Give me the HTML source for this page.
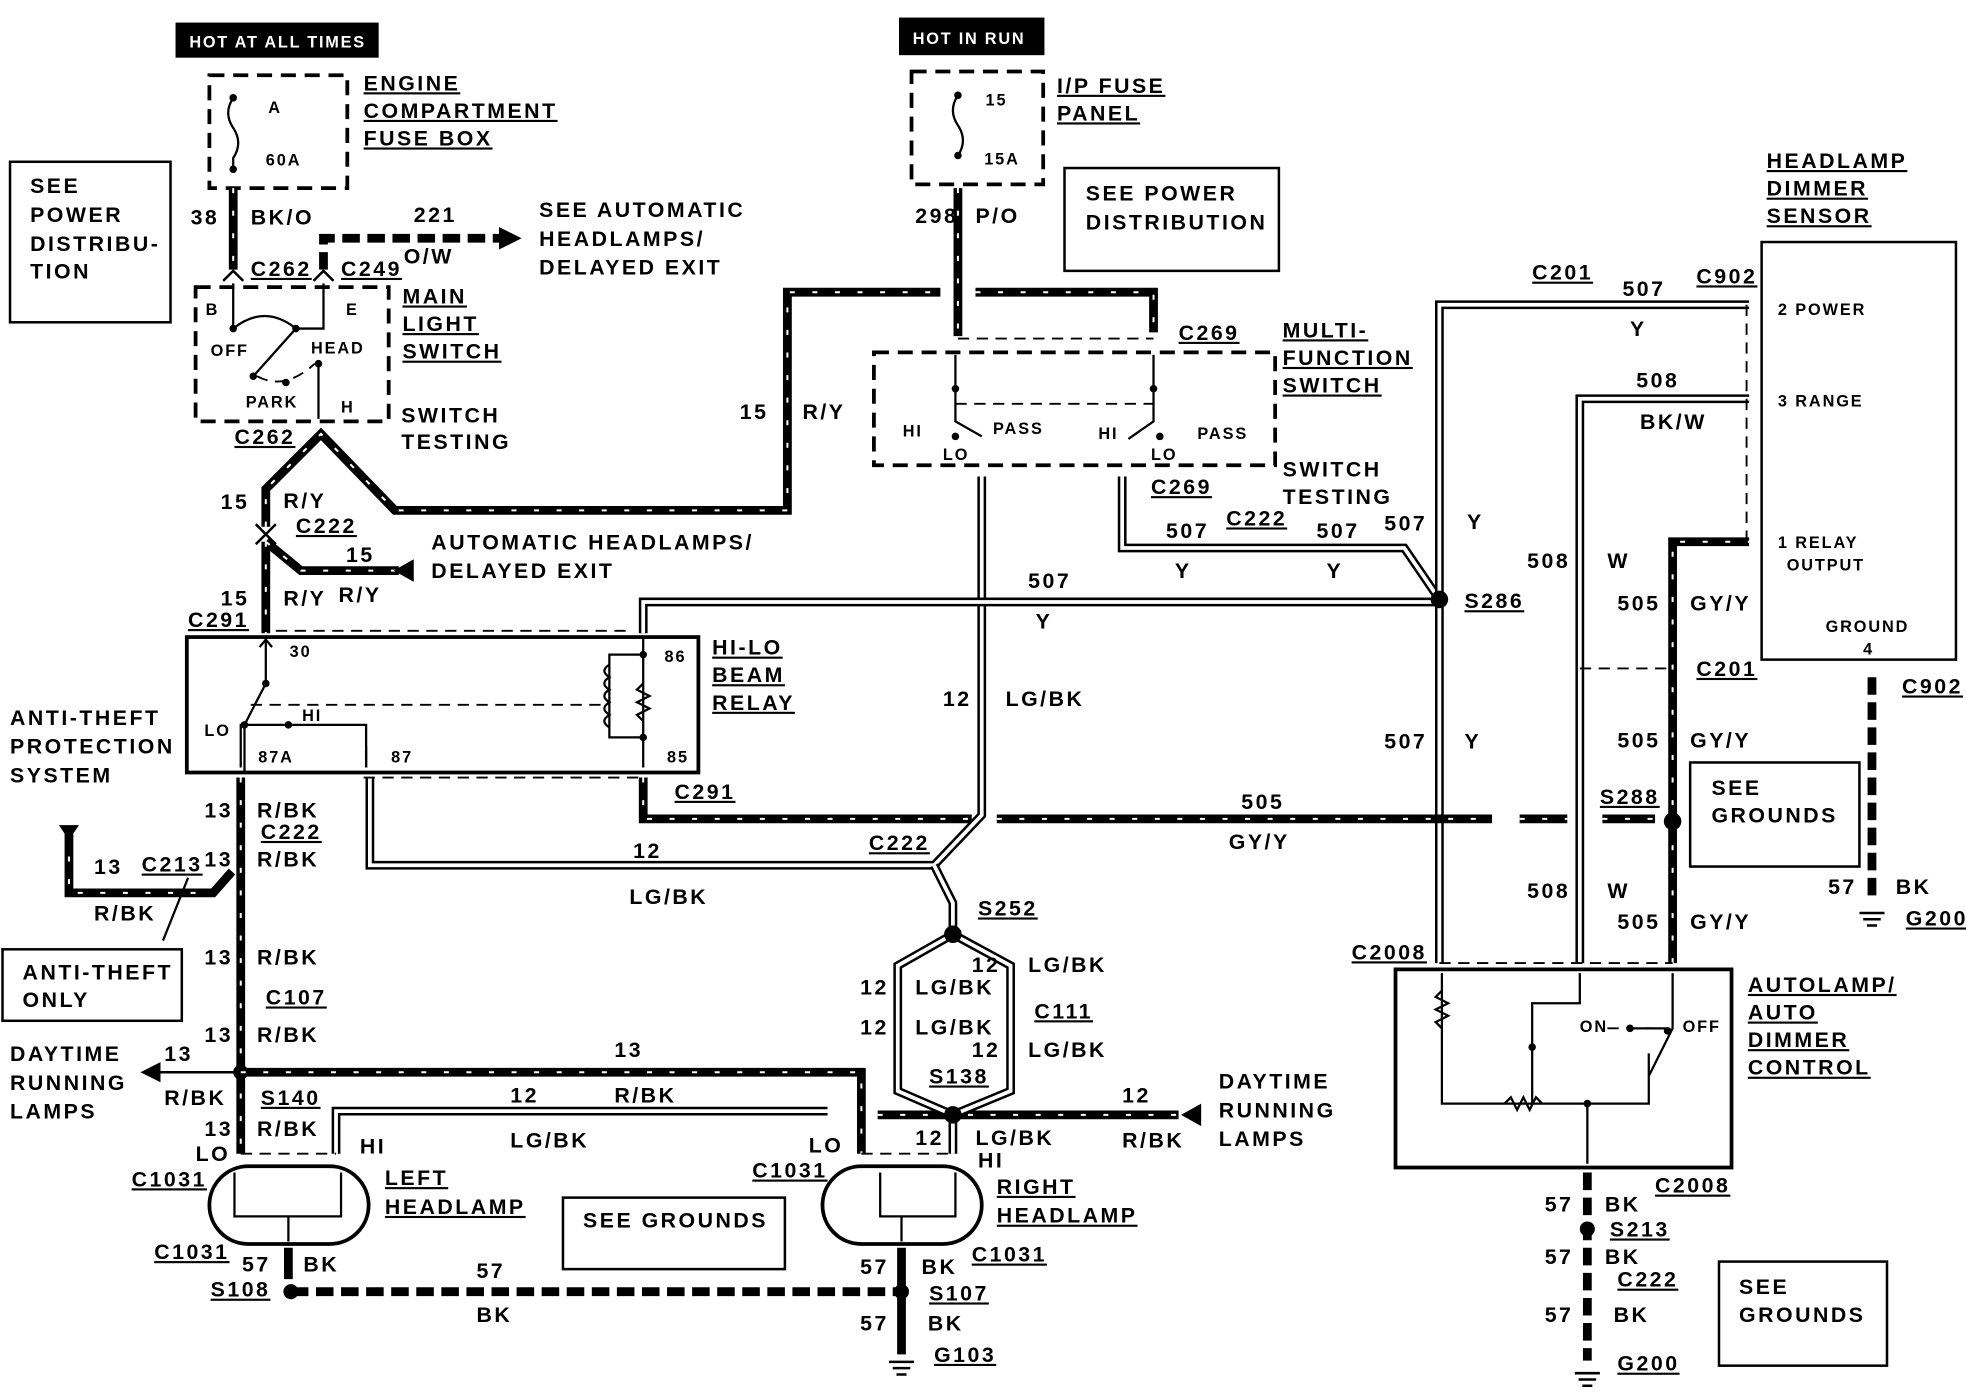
<!DOCTYPE html>
<html><head><meta charset="utf-8"><style>
html,body{margin:0;padding:0;background:#fff}
svg{display:block}
text{font-family:"Liberation Sans",sans-serif;font-weight:bold;font-size:17px;letter-spacing:2px;fill:#000}
.u{text-decoration:underline}
.s{font-size:13px;letter-spacing:1.5px}
.w{fill:#fff;font-size:13px;letter-spacing:1.4px}
.k{stroke:#000;stroke-width:7;fill:none}
.h{stroke:#fff;stroke-width:1.6;fill:none;stroke-dasharray:4 14}
.d{stroke:#000;stroke-width:7;fill:none}
.di{stroke:#fff;stroke-width:3;fill:none}
.kd{stroke:#000;stroke-width:7;fill:none;stroke-dasharray:14 6}
.dash{stroke:#000;stroke-width:3;fill:none;stroke-dasharray:12 7}
.ld{stroke:#000;stroke-width:1.5;fill:none;stroke-dasharray:9 6}
.l{stroke:#000;stroke-width:1.8;fill:none}
.b{stroke:#000;stroke-width:2;fill:none}
</style></head><body>
<svg width="1966" height="1392" viewBox="0 0 1568 1110" preserveAspectRatio="none" xmlns="http://www.w3.org/2000/svg">
<rect width="1568" height="1110" fill="#fff"/>
<rect x="140" y="18" width="162" height="28" fill="#000"/><text class="w" x="151" y="38">HOT AT ALL TIMES</text>
<rect x="717" y="14" width="116" height="30" fill="#000"/><text class="w" x="728" y="35">HOT IN RUN</text>
<rect x="167" y="60" width="110" height="90" class="dash"/>
<path d="M186 78 q-8 12 0 24 q8 12 0 24 v9" class="l"/><circle cx="186" cy="78" r="3"/><circle cx="186" cy="135" r="3"/>
<text class="s" x="214" y="90">A</text><text class="s" x="212" y="132">60A</text>
<text class="u" x="290" y="72">ENGINE</text><text class="u" x="290" y="94">COMPARTMENT</text><text class="u" x="290" y="116">FUSE BOX</text>
<rect x="727" y="57" width="105" height="90" class="dash"/>
<path d="M764 76 q-8 12 0 24 q8 12 0 24" class="l"/><circle cx="764" cy="76" r="3"/><circle cx="764" cy="124" r="3"/>
<text class="s" x="786" y="84">15</text><text class="s" x="785" y="131">15A</text>
<text class="u" x="843" y="74">I/P FUSE</text><text class="u" x="843" y="96">PANEL</text>
<rect x="8" y="129" width="128" height="128" class="b"/>
<text x="24" y="154">SEE</text><text x="24" y="177">POWER</text><text x="24" y="200">DISTRIBU-</text><text x="24" y="222">TION</text>
<rect x="849" y="134" width="171" height="82" class="b"/><text x="866" y="160">SEE POWER</text><text x="866" y="183">DISTRIBUTION</text>
<path d="M186 150V215" class="k"/><path d="M186 150V215" class="h"/>
<text x="152" y="179">38</text><text x="200" y="179">BK/O</text>
<path d="M258 215V190H400" class="kd"/><path d="M398 181l18 9-18 9z"/>
<text x="330" y="177">221</text><text x="322" y="210">O/W</text>
<text x="430" y="173">SEE AUTOMATIC</text><text x="430" y="196">HEADLAMPS/</text><text x="430" y="219">DELAYED EXIT</text>
<text class="u" x="200" y="220">C262</text><text class="u" x="272" y="220">C249</text>
<path d="M178 224l8-8 8 8M250 224l8-8 8 8" class="b"/>
<rect x="156" y="229" width="154" height="107" class="dash"/>
<path d="M186 226V262M258 226V262 H236 M236 262 L202 300 M186 262 q25-20 50 0 M254 290V334" class="l"/>
<circle cx="186" cy="262" r="3"/><circle cx="236" cy="262" r="3"/><circle cx="202" cy="300" r="3"/><circle cx="254" cy="290" r="3"/><circle cx="228" cy="305" r="3"/>
<path d="M205 300 q22 12 46 -10" class="ld"/>
<text class="s" x="164" y="251">B</text><text class="s" x="276" y="251">E</text><text class="s" x="168" y="284">OFF</text><text class="s" x="248" y="282">HEAD</text><text class="s" x="196" y="325">PARK</text><text class="s" x="272" y="329">H</text>
<text class="u" x="321" y="242">MAIN</text><text class="u" x="321" y="264">LIGHT</text><text class="u" x="321" y="286">SWITCH</text>
<text x="320" y="337">SWITCH</text><text x="320" y="358">TESTING</text>
<text class="u" x="187" y="354">C262</text>
<path d="M212 420V390L256 346L315 407H628V233H750M778 233H920V265" class="k"/>
<path d="M212 420V390L256 346L315 407H628V233H750M778 233H920V265" class="h"/>
<path d="M764 150V268" class="k"/><path d="M764 150V268" class="h"/>
<text x="730" y="178">298</text><text x="778" y="178">P/O</text>
<text x="590" y="334">15</text><text x="640" y="334">R/Y</text>
<text x="176" y="406">15</text><text x="226" y="405">R/Y</text><text class="u" x="236" y="425">C222</text>
<path d="M204 418l8 8 8-8M204 434l8-8 8 8" class="b"/>
<path d="M212 432V505M212 432L240 455H318" class="k"/><path d="M212 432V505M212 432L240 455H318" class="h"/>
<path d="M330 446v18l-16-9z"/>
<text x="276" y="448">15</text><text x="270" y="480">R/Y</text><text x="176" y="483">15</text><text x="226" y="483">R/Y</text>
<text x="344" y="438">AUTOMATIC HEADLAMPS/</text><text x="344" y="461">DELAYED EXIT</text>
<text class="u" x="150" y="500">C291</text>
<path d="M220 503H505" class="ld"/>
<rect x="149" y="508" width="408" height="108" fill="none" stroke="#000" stroke-width="3"/>
<path d="M212 508V545L195 578V616M212 510l-5 6M212 510l5 6M195 578H192V612M196 578L230 578M292 595V612" class="l"/>
<path d="M230 578H292V612" class="l"/>
<path d="M200 562H485" class="ld"/>
<path d="M513 508V612M513 522H486V588H513" class="l"/>
<path d="M486 530q-8 5 0 10q-8 5 0 10q-8 5 0 10q-8 5 0 10q-8 5 0 10" class="l"/>
<path d="M513 545l-5 5 10 5-10 5 10 5-10 5 5 5" class="l"/>
<circle cx="212" cy="545" r="3"/><circle cx="195" cy="578" r="3"/><circle cx="230" cy="578" r="3"/><circle cx="513" cy="522" r="3"/><circle cx="513" cy="588" r="3"/>
<text class="s" x="231" y="524">30</text><text class="s" x="530" y="528">86</text><text class="s" x="163" y="587">LO</text><text class="s" x="241" y="575">HI</text><text class="s" x="206" y="608">87A</text><text class="s" x="312" y="608">87</text><text class="s" x="532" y="608">85</text>
<text class="u" x="568" y="522">HI-LO</text><text class="u" x="568" y="544">BEAM</text><text class="u" x="568" y="566">RELAY</text>
<rect x="697" y="281" width="320" height="90" class="dash"/>
<path d="M764 270H920" class="ld"/>
<path d="M762 283V336L783 348M920 283V336L900 350" class="l"/><path d="M762 322H920" class="ld"/>
<circle cx="762" cy="310" r="3"/><circle cx="762" cy="348" r="3"/><circle cx="920" cy="310" r="3"/><circle cx="925" cy="348" r="3"/>
<text class="s" x="720" y="348">HI</text><text class="s" x="792" y="346">PASS</text><text class="s" x="752" y="367">LO</text><text class="s" x="876" y="350">HI</text><text class="s" x="955" y="350">PASS</text><text class="s" x="918" y="367">LO</text>
<text class="u" x="1023" y="269">MULTI-</text><text class="u" x="1023" y="291">FUNCTION</text><text class="u" x="1023" y="313">SWITCH</text>
<text x="1023" y="380">SWITCH</text><text x="1023" y="402">TESTING</text>
<text class="u" x="940" y="271">C269</text><text class="u" x="918" y="394">C269</text>
<path d="M783 380V650L745 690H295V620" class="d"/><path d="M783 380V650L745 690H295V620" class="di"/>
<text x="752" y="563">12</text><text x="802" y="563">LG/BK</text><text x="505" y="684">12</text><text x="502" y="721">LG/BK</text><text class="u" x="693" y="678">C222</text>
<path d="M290 620H510" class="ld"/>
<path d="M895 380V437H1120L1148 478" class="d"/><path d="M895 380V437H1120L1148 478" class="di"/>
<path d="M513 505V480H1148" class="d"/><path d="M513 505V480H1148" class="di"/>
<text x="930" y="429">507</text><text class="u" x="978" y="419">C222</text><text x="1050" y="429">507</text><text x="937" y="461">Y</text><text x="1058" y="461">Y</text><text x="1104" y="423">507</text>
<text x="820" y="469">507</text><text x="826" y="501">Y</text>
<path d="M1148 768V243H1395" class="d"/><path d="M1148 768V243H1395" class="di"/>
<circle cx="1148" cy="478" r="7"/><text class="u" x="1168" y="485">S286</text>
<text class="u" x="1222" y="223">C201</text><text x="1294" y="236">507</text><text x="1300" y="268">Y</text><text class="u" x="1353" y="226">C902</text>
<text x="1170" y="422">Y</text><text x="1104" y="597">507</text><text x="1168" y="597">Y</text>
<path d="M1260 768V318H1395" class="d"/><path d="M1260 768V318H1395" class="di"/>
<text x="1305" y="309">508</text><text x="1308" y="342">BK/W</text><text x="1218" y="453">508</text><text x="1282" y="453">W</text><text x="1218" y="716">508</text><text x="1282" y="716">W</text>
<path d="M1334 768V432H1395" class="k"/><path d="M1334 768V432H1395" class="h"/>
<text x="1290" y="487">505</text><text x="1348" y="487">GY/Y</text><text x="1290" y="596">505</text><text x="1348" y="596">GY/Y</text><text x="1290" y="741">505</text><text x="1348" y="741">GY/Y</text>
<path d="M1260 533H1334M1148 768H1334" class="ld"/><text class="u" x="1353" y="539">C201</text>
<path d="M1393 243V432" class="ld"/>
<path d="M513 620V653H775M795 653H1190M1212 653H1250M1278 653H1320" class="k"/><path d="M513 620V653H775M795 653H1190M1212 653H1250M1278 653H1320" class="h"/>
<circle cx="1334" cy="655" r="7"/><text class="u" x="1276" y="641">S288</text>
<text x="990" y="645">505</text><text x="980" y="677">GY/Y</text><text class="u" x="538" y="637">C291</text>
<rect x="1405" y="193" width="155" height="333" class="b"/>
<text class="s" x="1418" y="251">2 POWER</text><text class="s" x="1418" y="324">3 RANGE</text><text class="s" x="1418" y="437">1 RELAY</text><text class="s" x="1425" y="455">OUTPUT</text><text class="s" x="1456" y="504">GROUND</text><text class="s" x="1486" y="522">4</text>
<text class="u" x="1409" y="134">HEADLAMP</text><text class="u" x="1409" y="156">DIMMER</text><text class="u" x="1409" y="178">SENSOR</text>
<text class="u" x="1517" y="553">C902</text>
<path d="M1493 540V720" class="kd"/>
<path d="M1483 728h20M1486 733h14M1489 738h8" class="b"/>
<text x="1458" y="713">57</text><text x="1512" y="713">BK</text><text class="u" x="1520" y="738">G200</text>
<rect x="1348" y="608" width="135" height="83" class="b"/><text x="1365" y="634">SEE</text><text x="1365" y="656">GROUNDS</text>
<rect x="1113" y="773" width="268" height="158" fill="none" stroke="#000" stroke-width="3"/>
<path d="M1150 776V880H1315V840M1150 790l-5 5 10 5-10 5 10 5-10 5 5 5M1260 776V800H1222V880M1334 776V820L1315 858M1200 880l5-5 5 10 5-10 5 10 5-10 5 5M1266 880V928M1300 820H1330" class="l"/>
<path d="M1282 820H1318" class="ld"/>
<circle cx="1222" cy="835" r="3"/><circle cx="1300" cy="820" r="3"/><circle cx="1330" cy="822" r="3"/><circle cx="1266" cy="880" r="3"/>
<text class="s" x="1260" y="823">ON</text><text class="s" x="1342" y="823">OFF</text>
<text class="u" x="1394" y="791">AUTOLAMP/</text><text class="u" x="1394" y="813">AUTO</text><text class="u" x="1394" y="835">DIMMER</text><text class="u" x="1394" y="857">CONTROL</text>
<text class="u" x="1078" y="765">C2008</text>
<path d="M1266 935V1085" class="kd"/>
<path d="M1256 1095h20M1259 1100h14M1262 1105h8" class="b"/>
<circle cx="1266" cy="980" r="6"/>
<text class="u" x="1320" y="951">C2008</text><text x="1232" y="966">57</text><text x="1280" y="966">BK</text><text class="u" x="1284" y="986">S213</text>
<text x="1232" y="1008">57</text><text x="1280" y="1008">BK</text><text class="u" x="1290" y="1026">C222</text><text x="1232" y="1054">57</text><text x="1287" y="1054">BK</text><text class="u" x="1290" y="1093">G200</text>
<rect x="1371" y="1006" width="134" height="83" class="b"/><text x="1387" y="1032">SEE</text><text x="1387" y="1054">GROUNDS</text>
<text x="8" y="578">ANTI-THEFT</text><text x="8" y="601">PROTECTION</text><text x="8" y="624">SYSTEM</text>
<path d="M192 620V920" class="k"/><path d="M192 620V920" class="h"/>
<path d="M55 665V712H170L185 695" class="k"/><path d="M55 665V712H170" class="h"/>
<path d="M47 658h16l-8 12z"/>
<text x="163" y="652">13</text><text x="205" y="652">R/BK</text><text class="u" x="208" y="669">C222</text><text x="163" y="691">13</text><text x="205" y="691">R/BK</text>
<text x="75" y="697">13</text><text class="u" x="113" y="695">C213</text><text x="75" y="734">R/BK</text>
<path d="M150 700L130 750" class="l"/>
<rect x="2" y="757" width="143" height="57" class="b"/><text x="18" y="781">ANTI-THEFT</text><text x="18" y="803">ONLY</text>
<text x="163" y="769">13</text><text x="205" y="769">R/BK</text><text class="u" x="212" y="801">C107</text><text x="163" y="831">13</text><text x="205" y="831">R/BK</text>
<text x="8" y="846">DAYTIME</text><text x="8" y="869">RUNNING</text><text x="8" y="892">LAMPS</text>
<path d="M190 855H125" class="b" stroke-width="3"/><path d="M128 847l-16 8 16 8z"/>
<text x="131" y="846">13</text><text x="131" y="881">R/BK</text><circle cx="192" cy="855" r="6"/><text class="u" x="208" y="881">S140</text>
<text x="163" y="906">13</text><text x="205" y="906">R/BK</text><text x="156" y="926">LO</text><text x="287" y="920">HI</text>
<path d="M192 855H687V920" class="k"/><path d="M192 855H687V920" class="h"/><text x="490" y="843">13</text>
<path d="M268 920V886H660" class="d"/><path d="M268 920V886H660" class="di"/>
<path d="M700 889H940" class="k"/><path d="M700 889H940" class="h"/><path d="M958 880v18l-16-9z"/>
<text x="407" y="879">12</text><text x="490" y="879">R/BK</text><text x="407" y="915">LG/BK</text><text x="895" y="879">12</text><text x="895" y="915">R/BK</text>
<text x="972" y="868">DAYTIME</text><text x="972" y="891">RUNNING</text><text x="972" y="914">LAMPS</text>
<path d="M745 690L760 720V745M760 745L716 770V870L760 889M760 745L806 770V870L760 889M760 889V920" class="d"/>
<path d="M745 690L760 720V745M760 745L716 770V870L760 889M760 745L806 770V870L760 889M760 889V920" class="di"/>
<circle cx="760" cy="745" r="7"/><circle cx="760" cy="889" r="7"/>
<text class="u" x="780" y="730">S252</text><text class="u" x="741" y="864">S138</text>
<text x="775" y="775">12</text><text x="820" y="775">LG/BK</text><text x="686" y="793">12</text><text x="730" y="793">LG/BK</text><text class="u" x="825" y="812">C111</text>
<text x="686" y="825">12</text><text x="730" y="825">LG/BK</text><text x="775" y="843">12</text><text x="820" y="843">LG/BK</text>
<text x="730" y="913">12</text><text x="778" y="913">LG/BK</text><text x="780" y="931">HI</text><text x="645" y="919">LO</text>
<path d="M192 920H268M687 920H760" class="ld"/>
<rect x="167" y="930" width="127" height="62" rx="31" fill="none" stroke="#000" stroke-width="3"/>
<rect x="656" y="930" width="127" height="62" rx="31" fill="none" stroke="#000" stroke-width="3"/>
<path d="M187 935V970H272V935M230 970V990M702 935V970H762V935M719 970V990" class="l"/>
<text class="u" x="105" y="946">C1031</text><text class="u" x="307" y="945">LEFT</text><text class="u" x="307" y="968">HEADLAMP</text>
<text class="u" x="600" y="939">C1031</text><text class="u" x="795" y="952">RIGHT</text><text class="u" x="795" y="975">HEADLAMP</text>
<text class="u" x="123" y="1004">C1031</text><text class="u" x="775" y="1006">C1031</text>
<path d="M230 995V1020M719 995V1080" class="k"/>
<text x="193" y="1014">57</text><text x="242" y="1014">BK</text><text x="686" y="1016">57</text><text x="735" y="1016">BK</text>
<path d="M232 1030H720" class="kd"/><circle cx="232" cy="1030" r="6"/><circle cx="719" cy="1030" r="6"/>
<text class="u" x="168" y="1034">S108</text><text x="380" y="1019">57</text><text x="380" y="1054">BK</text><text class="u" x="741" y="1037">S107</text>
<text x="686" y="1061">57</text><text x="740" y="1061">BK</text><text class="u" x="745" y="1086">G103</text>
<path d="M709 1086h20M712 1091h14M715 1096h8" class="b"/>
<rect x="449" y="955" width="177" height="57" class="b"/><text x="465" y="979">SEE GROUNDS</text>
</svg>
</body></html>
